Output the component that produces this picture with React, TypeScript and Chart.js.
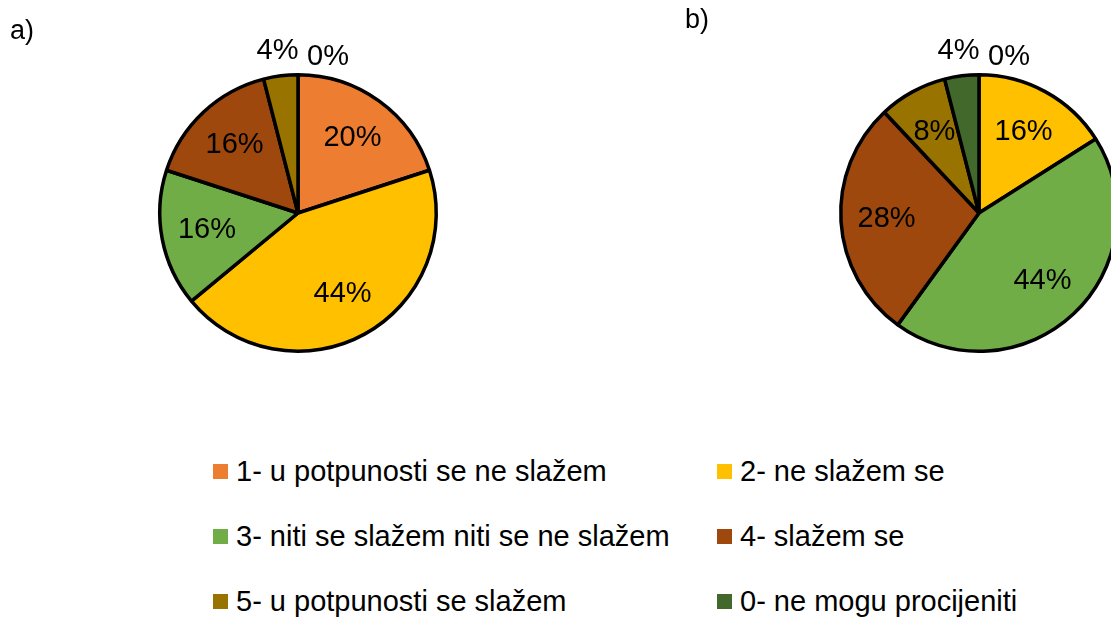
import React, { useEffect, useRef } from "react";
import { Chart, registerables } from "chart.js";

Chart.register(...registerables);

// ---- data ----
const categories = [
  "1- u potpunosti se ne slažem",
  "2- ne slažem se",
  "3- niti se slažem niti se ne slažem",
  "4- slažem se",
  "5- u potpunosti se slažem",
  "0- ne mogu procijeniti",
];
const colors = ["#ED7D31", "#FFC000", "#70AD47", "#9E480E", "#997300", "#43682B"];
const valuesA = [20, 44, 16, 16, 4, 0];
const valuesB = [0, 16, 44, 28, 8, 4];
const panelTitles = ["a)", "b)"];

const FONT = "'Liberation Sans', Arial, sans-serif";

const sliceLabels = {
  id: "sliceLabels",
  afterDatasetsDraw(chart: any, _args: any, opts: any) {
    const ctx = chart.ctx;
    const meta = chart.getDatasetMeta(0);
    const data = chart.data.datasets[0].data as number[];
    ctx.save();
    ctx.fillStyle = "#000";
    ctx.font = `29px ${FONT}`;
    ctx.textBaseline = "middle";
    meta.data.forEach((arc: any, i: number) => {
      const p = arc.getProps(["x", "y", "startAngle", "endAngle", "outerRadius"], true);
      const v = data[i];
      const mid = (p.startAngle + p.endAngle) / 2;
      const text = `${v}%`;
      if (v === 0) {
        ctx.textAlign = "left";
        ctx.fillText(text, p.x + 9, p.y - p.outerRadius - 18);
      } else {
        const f = v < 8 ? 1.18 : 0.67;
        ctx.textAlign = "center";
        ctx.fillText(text, p.x + Math.cos(mid) * p.outerRadius * f, p.y + Math.sin(mid) * p.outerRadius * f);
      }
    });
    ctx.textAlign = "left";
    ctx.textBaseline = "alphabetic";
    ctx.font = `27px ${FONT}`;
    ctx.fillText(opts.title, opts.titleX, opts.titleY);
    ctx.restore();
  },
};

function PieCanvas(props: { values: number[]; title: string; left: number; titleX: number; titleY: number }) {
  const ref = useRef<HTMLCanvasElement | null>(null);
  useEffect(() => {
    if (!ref.current) return;
    const chart = new Chart(ref.current, {
      type: "pie",
      data: {
        labels: categories,
        datasets: [
          {
            data: props.values,
            backgroundColor: colors,
            borderColor: "#000",
            borderWidth: 3.5,
            hoverOffset: 0,
            offset: 0,
          },
        ],
      },
      options: {
        responsive: false,
        animation: false,
        layout: { padding: 73 },
        plugins: {
          legend: { display: false },
          tooltip: { enabled: false },
          sliceLabels: { title: props.title, titleX: props.titleX, titleY: props.titleY },
        } as any,
      },
      plugins: [sliceLabels],
    });
    return () => chart.destroy();
  }, []);
  return (
    <canvas
      ref={ref}
      width={596}
      height={426}
      style={{ position: "absolute", left: props.left, top: 0, width: 596, height: 426 }}
    />
  );
}

export default function App() {
  const colX = [213, 717];
  const rowY = [471, 536, 601];
  return (
    <div
      style={{
        position: "absolute",
        left: 0,
        top: 0,
        width: 1111,
        height: 617,
        overflow: "hidden",
        background: "#fff",
        fontFamily: FONT,
      }}
    >
      <PieCanvas values={valuesA} title={panelTitles[0]} left={0} titleX={10} titleY={39} />
      <PieCanvas values={valuesB} title={panelTitles[1]} left={681} titleX={4} titleY={28} />
      {categories.map((c, i) => (
        <div
          key={c}
          style={{
            position: "absolute",
            left: colX[i % 2],
            top: rowY[Math.floor(i / 2)] - 20,
            height: 40,
            display: "flex",
            alignItems: "center",
            whiteSpace: "nowrap",
            fontSize: 29,
            color: "#000",
          }}
        >
          <span style={{ display: "inline-block", width: 15, height: 15, background: colors[i], marginRight: 8 }} />
          <span>{c}</span>
        </div>
      ))}
    </div>
  );
}
